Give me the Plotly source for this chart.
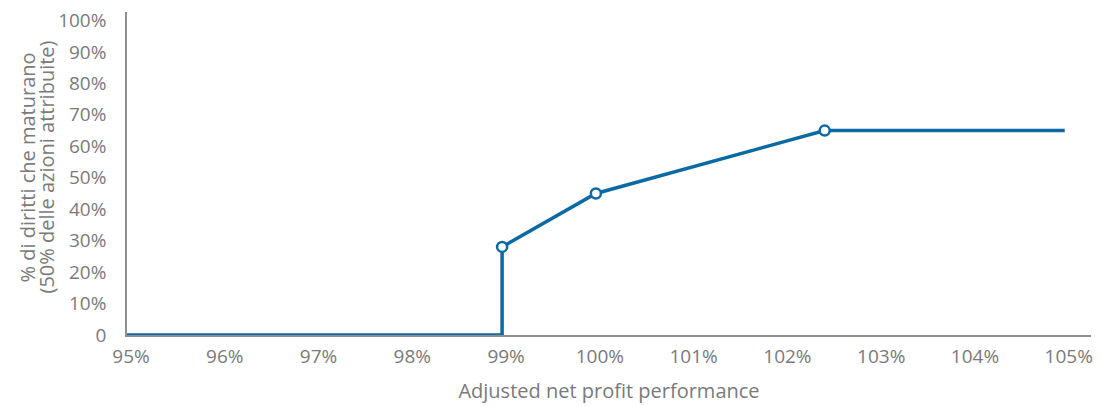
import plotly.graph_objects as go

# Vesting curve: adjusted net profit performance (%) vs. % of rights vesting
perf = [95, 99, 99, 100, 102.44, 105]
vesting = [0, 0, 28, 45, 65, 65]

# Threshold points highlighted with open markers
key_perf = [99, 100, 102.44]
key_vesting = [28, 45, 65]

x_ticks = [95, 96, 97, 98, 99, 100, 101, 102, 103, 104, 105]
x_tick_text = ["95%", "96%", "97%", "98%", "99%", "100%", "101%", "102%", "103%", "104%", "105%"]
y_ticks = [0, 10, 20, 30, 40, 50, 60, 70, 80, 90, 100]
y_tick_text = ["0", "10%", "20%", "30%", "40%", "50%", "60%", "70%", "80%", "90%", "100%"]
y_title_lines = ["% di diritti che maturano", "(50% delle azioni attribuite)"]

blue = "#0b69a3"
grey_text = "#7a7a7a"
axis_grey = "#8f8f8f"

fig = go.Figure()
fig.add_trace(go.Scatter(
    x=perf, y=vesting, mode="lines",
    line=dict(color=blue, width=3.5),
    hoverinfo="skip", showlegend=False,
))
fig.add_trace(go.Scatter(
    x=key_perf, y=key_vesting, mode="markers",
    marker=dict(symbol="circle", size=10, color="white",
                line=dict(color=blue, width=2.5)),
    showlegend=False,
))

font_family = "Open Sans, Noto Sans, sans-serif"

# Two-line rotated y-axis title, one annotation per line for tight spacing
for line_text, shift in zip(y_title_lines, [-100, -81]):
    fig.add_annotation(
        text=line_text, textangle=-90,
        xref="paper", yref="paper", x=0, y=0.5,
        xanchor="center", yanchor="middle",
        xshift=shift, yshift=6, showarrow=False,
        font=dict(family=font_family, size=20, color=grey_text),
    )

fig.update_layout(
    width=1100, height=406,
    margin=dict(l=127, r=7, t=10, b=69),
    paper_bgcolor="white", plot_bgcolor="white",
    font=dict(family=font_family, size=19, color=grey_text),
    xaxis=dict(
        range=[95, 105.28],
        tickmode="array", tickvals=x_ticks, ticktext=x_tick_text,
        showgrid=False, zeroline=False,
        showline=True, linecolor=axis_grey, linewidth=1.5,
        ticks="", ticklabelstandoff=3, ticklabelshift=4,
        title=dict(text="Adjusted net profit performance", standoff=16,
                   font=dict(size=20, color=grey_text)),
    ),
    yaxis=dict(
        range=[0, 102.7],
        tickmode="array", tickvals=y_ticks, ticktext=y_tick_text,
        showgrid=False, zeroline=False,
        showline=True, linecolor=axis_grey, linewidth=1.5,
        ticks="", ticklabelstandoff=15,
    ),
)

fig.write_html("out.html")
